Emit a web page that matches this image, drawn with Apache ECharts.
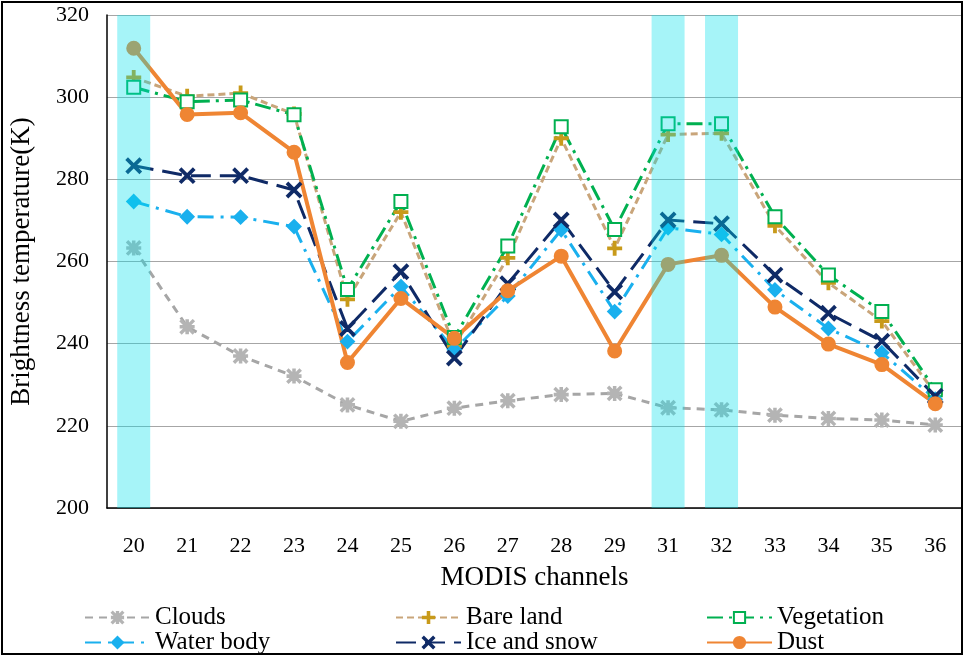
<!DOCTYPE html>
<html>
<head>
<meta charset="utf-8">
<script src="https://cdn.jsdelivr.net/npm/echarts@6/dist/echarts.min.js"></script>
<style>html,body{margin:0;padding:0;background:#fff;}#c{width:965px;height:658px;}</style>
</head>
<body>
<div id="c"></div>
<script>
const categories = ['20','21','22','23','24','25','26','27','28','29','31','32','33','34','35','36'];
const clouds     = [263.3, 244.1, 237.0, 232.1, 225.1, 221.1, 224.3, 226.1, 227.6, 227.9, 224.4, 223.9, 222.6, 221.8, 221.4, 220.2];
const bareLand   = [304.8, 300.2, 301.0, 295.9, 250.8, 272.0, 239.5, 260.9, 290.0, 263.2, 290.9, 291.2, 268.7, 254.8, 245.5, 227.9];
const vegetation = [302.4, 298.9, 299.3, 295.7, 253.2, 274.6, 241.5, 263.8, 292.8, 267.8, 293.5, 293.5, 270.9, 256.7, 247.8, 228.8];
const waterBody  = [274.6, 270.9, 270.8, 268.5, 240.5, 253.9, 238.5, 251.6, 267.7, 247.8, 268.2, 266.6, 253.1, 243.7, 237.8, 226.5];
const iceSnow    = [283.3, 280.9, 280.9, 277.4, 243.7, 257.5, 236.5, 254.6, 270.1, 252.6, 270.1, 269.2, 256.7, 247.4, 240.6, 227.2];
const dust       = [311.9, 295.8, 296.2, 286.6, 235.4, 251.0, 241.3, 252.9, 261.3, 238.2, 259.3, 261.5, 248.9, 239.9, 234.9, 225.4];
const highlightedChannels = ['20', '31', '32'];
const yTicks = { min: 200, max: 320, interval: 20 };

const FONT = 'Liberation Serif, Times New Roman, serif';
const PLUS = 'path://M4.3,0H5.7V4.3H10V5.7H5.7V10H4.3V5.7H0V4.3H4.3Z';
const XMARK = 'path://M0.9,0L10,9.1L9.1,10L0,0.9Z M9.1,0L10,0.9L0.9,10L0,9.1Z';
const STAR = 'path://M4.4,0H5.6V10H4.4Z M0,4.4H10V5.6H0Z M0.8,0L10,9.2L9.2,10L0,0.8Z M9.2,0L10,0.8L0.8,10L0,9.2Z';

const bandData = categories.map(c => highlightedChannels.includes(c) ? yTicks.max : '-');

function lineSeries(name, data, color, dash, width, symbol, size, symColor) {
  return {
    name: name, type: 'line', data: data,
    symbol: symbol, symbolSize: size,
    lineStyle: { color: color, width: width, type: dash },
    itemStyle: { color: symColor || color, borderColor: symColor || color, borderWidth: 2 },
    emphasis: { disabled: true },
    z: 3
  };
}

const legendText = { fontFamily: FONT, fontSize: 25, color: '#000', lineHeight: 24 };
function legend(names, left) {
  return { data: names, orient: 'vertical', left: left, top: 605, padding: 0, itemWidth: 65, itemHeight: 14,
    itemGap: 0, textStyle: legendText, selectedMode: false };
}

const option = {
  animation: false,
  backgroundColor: '#fff',
  grid: { left: 106, right: 3, top: 15, bottom: 150 },
  graphic: [{ type: 'rect', shape: { x: 2, y: 2, width: 960, height: 652 },
    style: { fill: 'none', stroke: '#000', lineWidth: 2 }, silent: true, z: 100 }],
  legend: [
    legend(['Clouds', 'Water body'], 84),
    legend(['Bare land', 'Ice and snow'], 395),
    legend(['Vegetation', 'Dust'], 706)
  ],
  xAxis: {
    type: 'category', data: categories, boundaryGap: true,
    name: 'MODIS channels', nameLocation: 'middle', nameGap: 56,
    nameTextStyle: { fontFamily: FONT, fontSize: 27, color: '#000' },
    axisLine: { lineStyle: { color: '#000', width: 1.5 } },
    axisTick: { alignWithLabel: true, length: 7, lineStyle: { color: '#000' } },
    axisLabel: { fontFamily: FONT, fontSize: 22, color: '#000', margin: 27 },
    splitLine: { show: false }
  },
  yAxis: {
    type: 'value', min: yTicks.min, max: yTicks.max, interval: yTicks.interval,
    name: 'Brightness temperature(K)', nameLocation: 'middle', nameGap: 72,
    nameTextStyle: { fontFamily: FONT, fontSize: 27, color: '#000' },
    axisLine: { show: true, lineStyle: { color: '#000', width: 1.5 } },
    axisTick: { show: false },
    axisLabel: { fontFamily: FONT, fontSize: 22, color: '#000', margin: 18 },
    splitLine: { show: true, lineStyle: { color: '#a6a6a6', width: 1.2 } }
  },
  series: [
    lineSeries('Clouds', clouds, '#a6a6a6', [8, 6], 3, STAR, 13, '#b4b4b4'),
    lineSeries('Bare land', bareLand, '#c9a57a', [7, 4], 3, PLUS, 13, '#c89a1a'),
    lineSeries('Vegetation', vegetation, '#00b050', [16, 6, 3, 6], 3, 'emptyRect', 13, '#00b050'),
    lineSeries('Water body', waterBody, '#1ab0ee', [16, 7, 3, 7], 3, 'diamond', 13),
    lineSeries('Ice and snow', iceSnow, '#0f2a66', [20, 9], 3, XMARK, 14),
    lineSeries('Dust', dust, '#ef8533', 'solid', 4, 'circle', 13),
    { name: 'band', type: 'bar', data: bandData, barWidth: 33, silent: true, z: 10,
      itemStyle: { color: 'rgba(0,224,235,0.35)' }, emphasis: { disabled: true } }
  ]
};
const chart = echarts.init(document.getElementById('c'), null, { renderer: 'canvas' });
chart.setOption(option);
</script>
</body>
</html>
